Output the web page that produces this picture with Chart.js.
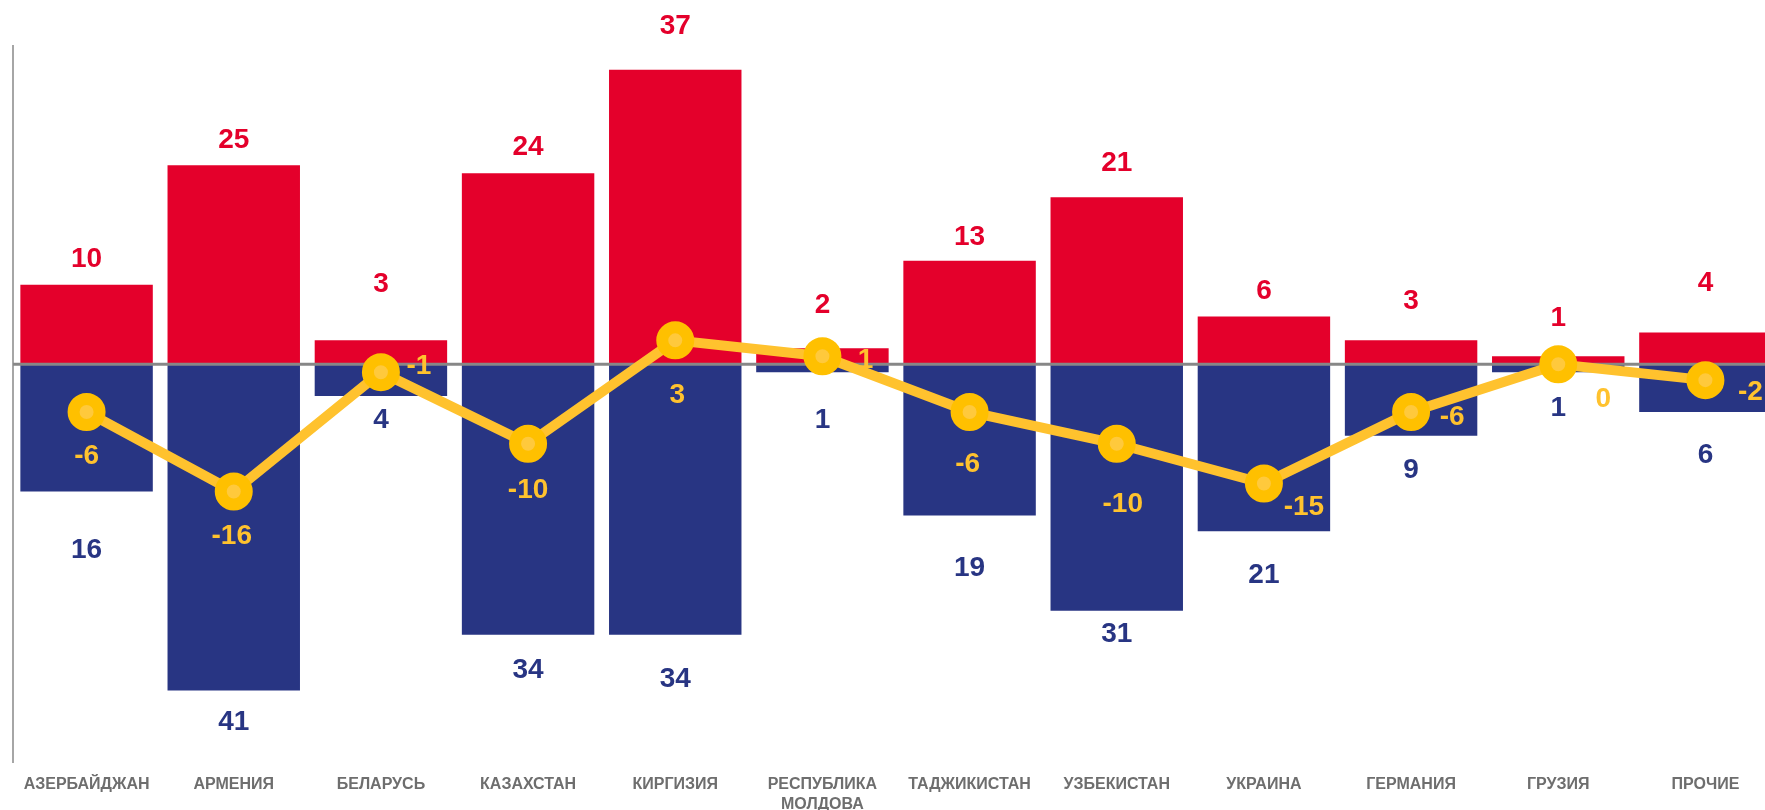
<!DOCTYPE html>
<html lang="ru">
<head>
<meta charset="utf-8">
<title>Миграционный прирост</title>
<script src="https://cdn.jsdelivr.net/npm/chart.js"></script>
<style>
    html, body { margin: 0; padding: 0; background: #fff; overflow: hidden; }
    .wrap { width: 1765px; height: 810px; overflow: hidden; position: relative; }
    canvas { display: block; }
</style>
</head>
<body>
<div class="wrap">
    <canvas id="migChart" width="1800" height="828"></canvas>
</div>
<script>
/* =========================================================
   ДАННЫЕ
========================================================== */
const countries = ["АЗЕРБАЙДЖАН", "АРМЕНИЯ", "БЕЛАРУСЬ", "КАЗАХСТАН", "КИРГИЗИЯ",
    ["РЕСПУБЛИКА", "МОЛДОВА"], "ТАДЖИКИСТАН", "УЗБЕКИСТАН", "УКРАИНА",
    "ГЕРМАНИЯ", "ГРУЗИЯ", "ПРОЧИЕ"];
const arrived  = [10, 25, 3, 24, 37, 2, 13, 21, 6, 3, 1, 4];
const departed = [-16, -41, -4, -34, -34, -1, -19, -31, -21, -9, -1, -6];
const balance  = [-6, -16, -1, -10, 3, 1, -6, -10, -15, -6, 0, -2];

const yMin = -50;
const yMax = 40;
const yStep = 10;

/* =========================================================
   ОФОРМЛЕНИЕ ПОДПИСЕЙ (сдвиги в пикселях, как в исходнике)
========================================================== */
const redGap  = [28, 27, 58, 28, 46, 45, 26, 36, 27, 41, 40, 51];
const blueGap = [56, 30, 22, 33, 42, 46, 51, 21, 42, 32, 34, 41];
const lineShift = [[0, 42], [-2, 42], [38, -8], [0, 44], [2, 53], [43, 2],
    [-2, 50], [6, 58], [40, 21], [41, 3], [45, 33], [45, 10]];

const RED = "#E4002B";
const BLUE = "#283583";
const YELLOW = "#FFC22E";
const FONT = "'Liberation Sans', Arial, sans-serif";

/* =========================================================
   ПЛАГИНЫ
========================================================== */
// нулевая линия поверх столбцов, но под линией сальдо
const zeroLine = {
    id: "zeroLine",
    beforeDatasetDraw(chart, args) {
        if (args.index !== 2) return;
        const { ctx, chartArea, scales } = chart;
        const y0 = scales.y.getPixelForValue(0);
        ctx.save();
        ctx.strokeStyle = "#878787";
        ctx.lineWidth = 3;
        ctx.beginPath();
        ctx.moveTo(chartArea.left, y0);
        ctx.lineTo(chartArea.right + 30, y0);
        ctx.stroke();
        ctx.restore();
    }
};

const valueLabels = {
    id: "valueLabels",
    afterDatasetsDraw(chart) {
        const ctx = chart.ctx;
        const red = chart.getDatasetMeta(0).data;
        const blue = chart.getDatasetMeta(1).data;
        const pts = chart.getDatasetMeta(2).data;
        ctx.save();
        ctx.font = "bold 28px " + FONT;
        ctx.textAlign = "center";
        ctx.textBaseline = "alphabetic";
        const half = 10; // половина высоты цифр

        arrived.forEach((v, i) => {
            ctx.fillStyle = RED;
            ctx.fillText(String(v), red[i].x, red[i].y - redGap[i] + half);
        });
        departed.forEach((v, i) => {
            ctx.fillStyle = BLUE;
            ctx.fillText(String(Math.abs(v)), blue[i].x, blue[i].y + blueGap[i] + half);
        });
        balance.forEach((v, i) => {
            ctx.fillStyle = YELLOW;
            ctx.fillText(String(v), pts[i].x + lineShift[i][0], pts[i].y + lineShift[i][1] + half);
        });
        ctx.restore();
    }
};

/* =========================================================
   ГРАФИК
========================================================== */
new Chart(document.getElementById("migChart"), {
    type: "bar",
    data: {
        labels: countries,
        datasets: [
            {
                label: "Прибыло",
                data: arrived,
                backgroundColor: RED,
                categoryPercentage: 0.9,
                barPercentage: 1,
                order: 2
            },
            {
                label: "Выбыло",
                data: departed,
                backgroundColor: BLUE,
                categoryPercentage: 0.9,
                barPercentage: 1,
                order: 1
            },
            {
                type: "line",
                label: "Сальдо",
                data: balance,
                borderColor: YELLOW,
                borderWidth: 10,
                tension: 0,
                pointRadius: 13,
                pointBorderWidth: 12,
                pointBackgroundColor: "#FFC93C",
                pointBorderColor: "#FFC000",
                order: 0
            }
        ]
    },
    options: {
        responsive: false,
        animation: false,
        layout: {
            autoPadding: false,
            padding: { left: 13, right: 21, top: 46, bottom: 0 }
        },
        plugins: {
            legend: { display: false },
            tooltip: { enabled: false }
        },
        scales: {
            x: {
                stacked: true,
                grid: { display: false, drawTicks: false },
                border: { display: false },
                // подписи не должны сдвигать область графика
                afterFit: s => { s.paddingLeft = 0; s.paddingRight = 0; },
                ticks: {
                    autoSkip: false,
                    maxRotation: 0,
                    padding: 13,
                    color: "#6E6E6E",
                    font: { family: FONT, size: 16, weight: "bold", lineHeight: 1.25 }
                }
            },
            y: {
                min: yMin,
                max: yMax,
                afterFit: s => { s.width = 0; },
                grid: { display: false, drawTicks: false },
                border: { display: true, color: "#A6A6A6", width: 2 },
                ticks: { display: false, stepSize: yStep }
            }
        }
    },
    plugins: [zeroLine, valueLabels]
});
</script>
</body>
</html>
